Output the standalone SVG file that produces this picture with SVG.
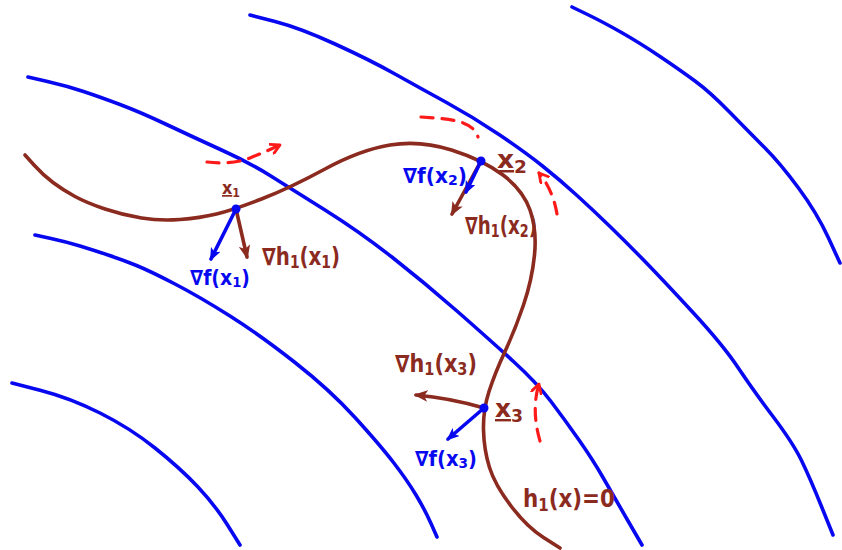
<svg xmlns="http://www.w3.org/2000/svg" width="842" height="550" viewBox="0 0 842 550">
<style>
.bl{fill:none;stroke:#0808f0;stroke-width:3.6;stroke-linecap:round;stroke-linejoin:round}
.br{fill:none;stroke:#8b2a1e;stroke-width:3.6;stroke-linecap:round;stroke-linejoin:round}
.rd{fill:none;stroke:#ff1a1a;stroke-width:3.2;stroke-linecap:round;stroke-dasharray:12 9}
.t{font-family:"DejaVu Sans",sans-serif;font-weight:bold}
.tb{fill:#8b2a1e}
.tu{fill:#0808f0}
.s{font-size:70%}
.dot{fill:#0808f0}
</style>
<defs>
<marker id="ab" viewBox="0 0 12 10" refX="10" refY="5" markerWidth="13" markerHeight="11" markerUnits="userSpaceOnUse" orient="auto">
<path d="M0,0 L12,5 L0,10 L3,5 Z" fill="#0808f0"/>
</marker>
<marker id="abr" viewBox="0 0 12 10" refX="10" refY="5" markerWidth="14" markerHeight="12" markerUnits="userSpaceOnUse" orient="auto">
<path d="M0,0 L12,5 L0,10 L3,5 Z" fill="#8b2a1e"/>
</marker>
<marker id="ar" viewBox="0 0 12 12" refX="10" refY="6" markerWidth="12" markerHeight="12" markerUnits="userSpaceOnUse" orient="auto">
<path d="M1,1 L10,6 L1,11" fill="none" stroke="#ff1a1a" stroke-width="2.8" stroke-linecap="round" stroke-linejoin="round"/>
</marker>
</defs>
<rect width="842" height="550" fill="#ffffff"/>

<g id="contours">
<path class="bl" d="M12,383 L41,390.5 Q70,398 100,413 Q130,428 155,448 Q180,468 197.5,486.5 Q215,505 227.5,525 L240,545"/>
<path class="bl" d="M35,235 L51,238.5 Q67,242 80,246 Q93,250 108,255 Q123,260 136.5,265.5 Q150,271 175,284 Q200,297 230,316 Q260,335 295,362.5 Q330,390 355,417.5 Q380,445 393.5,462.5 Q407,480 416,495 Q425,510 431,523.5 L437,537"/>
<path class="bl" d="M28,77 L47.5,81.5 Q67,86 83.5,91.5 Q100,97 120,104.5 Q140,112 166.5,124.5 Q193,137 221.5,150 Q250,163 270,175.5 Q290,188 325,210 Q360,232 392.5,257.5 Q425,283 457.5,311.5 Q490,340 513.5,361.5 Q537,383 551,401.5 Q565,420 579,440 Q593,460 603,477.5 Q613,495 627.5,520 L642,545"/>
<path class="bl" d="M250,15 L275,21.5 Q300,28 335,44 Q370,60 395,74 Q420,88 446.5,102.5 Q473,117 499,134.5 Q525,152 542.5,166 Q560,180 576.5,195 Q593,210 610,226.5 Q627,243 645,261.5 Q663,280 693,312.5 Q723,345 738,367.5 Q753,390 773,416.5 Q793,443 801.5,460.5 Q810,478 821.5,506.5 L833,535"/>
<path class="bl" d="M572,7 L587.5,14.5 Q603,22 621.5,32.5 Q640,43 660,56.5 Q680,70 695,81 Q710,92 730,112.5 Q750,133 765,148 Q780,163 798.5,188 Q817,213 828.5,238 L840,263"/>
</g>

<g id="constraint">
<path class="br" d="M25,155 L34,165 Q43,175 53,182.5 Q63,190 75,196.5 Q87,203 105,209 Q123,215 141.5,218 Q160,221 180,219.5 Q200,218 216.5,214 Q233,210 261.5,199 Q290,188 325,169 Q360,150 390,145 Q420,140 451.5,150 Q483,160 503,175 Q523,190 530,210 Q537,230 534.5,255 Q532,280 523.5,305 Q515,330 505,351.5 Q495,373 489,391.5 Q483,410 483.5,430 Q484,450 489.5,467.5 Q495,485 511,506 Q527,527 543.5,537.5 L560,548"/>
<text class="t tb" x="523" y="507" font-size="25" textLength="92" lengthAdjust="spacingAndGlyphs">h<tspan class="s" dy="4">1</tspan><tspan dy="-4">(x)=0</tspan></text>
</g>

<g id="connectors">
<path class="br" d="M236,209 L247,257" marker-end="url(#abr)"/>
<path class="bl" d="M236,209 L211,259" marker-end="url(#ab)"/>
<path class="br" d="M481,161 L452,214" marker-end="url(#abr)"/>
<path class="bl" d="M481,161 L466,192" marker-end="url(#ab)"/>
<path class="br" d="M484,408 Q450,398 416,395" marker-end="url(#abr)"/>
<path class="bl" d="M484,408 L448,439" marker-end="url(#ab)"/>
<path class="rd" d="M207,162 Q232,165 250,158 Q265,152 280,145" marker-end="url(#ar)"/>
<path class="rd" d="M421,117 C447,119 472,119 478,137"/>
<path class="rd" d="M557,214 Q553,190 539,173" marker-end="url(#ar)"/>
<path class="rd" d="M540,441 Q531,410 539,384" marker-end="url(#ar)"/>
</g>

<g id="x1">
<circle class="dot" cx="236" cy="209" r="4.5"/>
<text class="t tb" x="222" y="194" font-size="17" textLength="18" lengthAdjust="spacingAndGlyphs"><tspan text-decoration="underline">x</tspan><tspan class="s" dy="3">1</tspan></text>
<text class="t tb" x="262" y="265" font-size="24" textLength="78" lengthAdjust="spacingAndGlyphs">∇h<tspan class="s" dy="3">1</tspan><tspan dy="-3">(x</tspan><tspan class="s" dy="3">1</tspan><tspan dy="-3">)</tspan></text>
<text class="t tu" x="190" y="285" font-size="21" textLength="60" lengthAdjust="spacingAndGlyphs">∇f(x<tspan class="s" dy="2">1</tspan><tspan dy="-2">)</tspan></text>
</g>

<g id="x2">
<circle class="dot" cx="481" cy="161" r="4.5"/>
<text class="t tb" x="497" y="168" font-size="25" textLength="30" lengthAdjust="spacingAndGlyphs"><tspan text-decoration="underline">x</tspan><tspan class="s" dy="5">2</tspan></text>
<text class="t tu" x="403" y="183" font-size="21" textLength="64" lengthAdjust="spacingAndGlyphs">∇f(x<tspan class="s" dy="2">2</tspan><tspan dy="-2">)</tspan></text>
<text class="t tb" x="465" y="234" font-size="24" textLength="72" lengthAdjust="spacingAndGlyphs">∇h<tspan class="s" dy="3">1</tspan><tspan dy="-3">(x</tspan><tspan class="s" dy="3">2</tspan><tspan dy="-3">)</tspan></text>
</g>

<g id="x3">
<circle class="dot" cx="484" cy="408" r="4.5"/>
<text class="t tb" x="495" y="417" font-size="24" textLength="28" lengthAdjust="spacingAndGlyphs"><tspan text-decoration="underline">x</tspan><tspan class="s" dy="5">3</tspan></text>
<text class="t tb" x="395" y="372" font-size="24" textLength="82" lengthAdjust="spacingAndGlyphs">∇h<tspan class="s" dy="3">1</tspan><tspan dy="-3">(x</tspan><tspan class="s" dy="3">3</tspan><tspan dy="-3">)</tspan></text>
<text class="t tu" x="415" y="466" font-size="21" textLength="62" lengthAdjust="spacingAndGlyphs">∇f(x<tspan class="s" dy="2">3</tspan><tspan dy="-2">)</tspan></text>
</g>
</svg>
